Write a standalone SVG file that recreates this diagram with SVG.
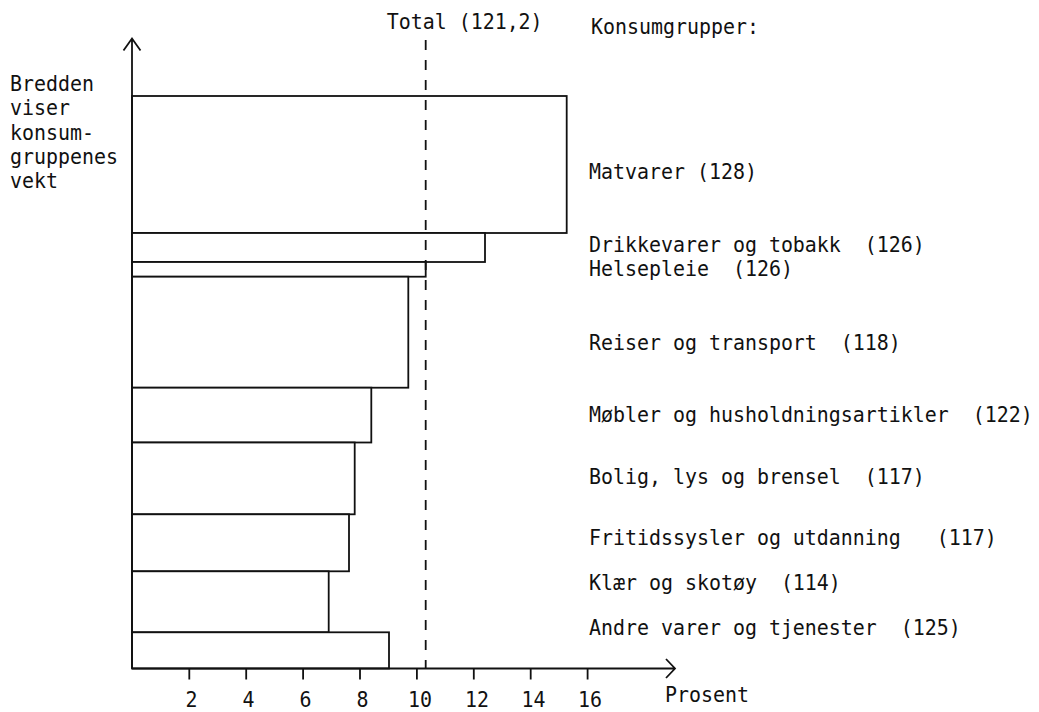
<svg xmlns="http://www.w3.org/2000/svg" width="1039" height="712" viewBox="0 0 1039 712">
<style>
.t{font-family:"DejaVu Sans Mono","Liberation Mono",monospace;font-size:21.5px;fill:#111;white-space:pre}
.m{text-anchor:middle}
.bar{fill:#fff;stroke:#111;stroke-width:1.8}
.ax{fill:none;stroke:#111;stroke-width:1.8}
.dash{fill:none;stroke:#111;stroke-width:1.8;stroke-dasharray:10 10}
</style>
<rect x="0" y="0" width="1039" height="712" fill="#fff"/>
<g id="bars">
<rect id="bar-matvarer" class="bar" x="132" y="96" width="434.7" height="137"/>
<rect id="bar-drikke" class="bar" x="132" y="233" width="353" height="29"/>
<rect id="bar-helse" class="bar" x="132" y="262" width="293.7" height="14.7"/>
<rect id="bar-reiser" class="bar" x="132" y="276.7" width="276.3" height="111"/>
<rect id="bar-mobler" class="bar" x="132" y="387.7" width="239.3" height="54.8"/>
<rect id="bar-bolig" class="bar" x="132" y="442.5" width="222.7" height="71.8"/>
<rect id="bar-fritid" class="bar" x="132" y="514.3" width="217" height="57"/>
<rect id="bar-klaer" class="bar" x="132" y="571.3" width="196.7" height="61"/>
<rect id="bar-andre" class="bar" x="132" y="632.3" width="257" height="36.2"/>
</g>
<g id="connectors">
<path id="total-line" class="dash" d="M425.7 40 V668.5"/>
<path id="y-axis" class="ax" d="M132 668.5 V38.5 M123.5 50.5 L132 38.5 L140.5 50.5"/>
<path id="x-axis" class="ax" d="M132 668.5 H675 M666 659 L675 668.5 L666 678"/>
<path id="ticks" class="ax" d="M189.3 668.5 V679.5 M246.2 668.5 V679.5 M303.1 668.5 V679.5 M360 668.5 V679.5 M416.9 668.5 V679.5 M473.8 668.5 V679.5 M530.7 668.5 V679.5 M587.6 668.5 V679.5"/>
</g>
<g id="tick-labels">
<text class="t m" transform="translate(191.5,707) scale(0.927,1)">2</text>
<text class="t m" transform="translate(248.5,707) scale(0.927,1)">4</text>
<text class="t m" transform="translate(305.5,707) scale(0.927,1)">6</text>
<text class="t m" transform="translate(362.5,707) scale(0.927,1)">8</text>
<text class="t m" transform="translate(420,707) scale(0.927,1)">10</text>
<text class="t m" transform="translate(477,707) scale(0.927,1)">12</text>
<text class="t m" transform="translate(533.5,707) scale(0.927,1)">14</text>
<text class="t m" transform="translate(590,707) scale(0.927,1)">16</text>
<text id="x-title" class="t" transform="translate(665,702) scale(0.927,1)">Prosent</text>
</g>
<g id="y-title">
<text class="t" transform="translate(10,91) scale(0.927,1)">Bredden</text>
<text class="t" transform="translate(10,115) scale(0.927,1)">viser</text>
<text class="t" transform="translate(10,140) scale(0.927,1)">konsum-</text>
<text class="t" transform="translate(10,164) scale(0.927,1)">gruppenes</text>
<text class="t" transform="translate(10,188) scale(0.927,1)">vekt</text>
</g>
<g id="total-label">
<text class="t" transform="translate(386.7,28.5) scale(0.927,1)">Total (121,2)</text>
</g>
<g id="legend">
<text id="legend-title" class="t" transform="translate(591,33.5) scale(0.927,1)">Konsumgrupper:</text>
<text id="lbl-matvarer" class="t" transform="translate(589,178.5) scale(0.927,1)">Matvarer (128)</text>
<text id="lbl-drikke" class="t" transform="translate(589,251.5) scale(0.927,1)">Drikkevarer og tobakk  (126)</text>
<text id="lbl-helse" class="t" transform="translate(589,276) scale(0.927,1)">Helsepleie  (126)</text>
<text id="lbl-reiser" class="t" transform="translate(589,349.5) scale(0.927,1)">Reiser og transport  (118)</text>
<text id="lbl-mobler" class="t" transform="translate(589,421.5) scale(0.927,1)">Møbler og husholdningsartikler  (122)</text>
<text id="lbl-bolig" class="t" transform="translate(589,484) scale(0.927,1)">Bolig, lys og brensel  (117)</text>
<text id="lbl-fritid" class="t" transform="translate(589,545) scale(0.927,1)">Fritidssysler og utdanning   (117)</text>
<text id="lbl-klaer" class="t" transform="translate(589,590) scale(0.927,1)">Klær og skotøy  (114)</text>
<text id="lbl-andre" class="t" transform="translate(589,635) scale(0.927,1)">Andre varer og tjenester  (125)</text>
</g>
</svg>
